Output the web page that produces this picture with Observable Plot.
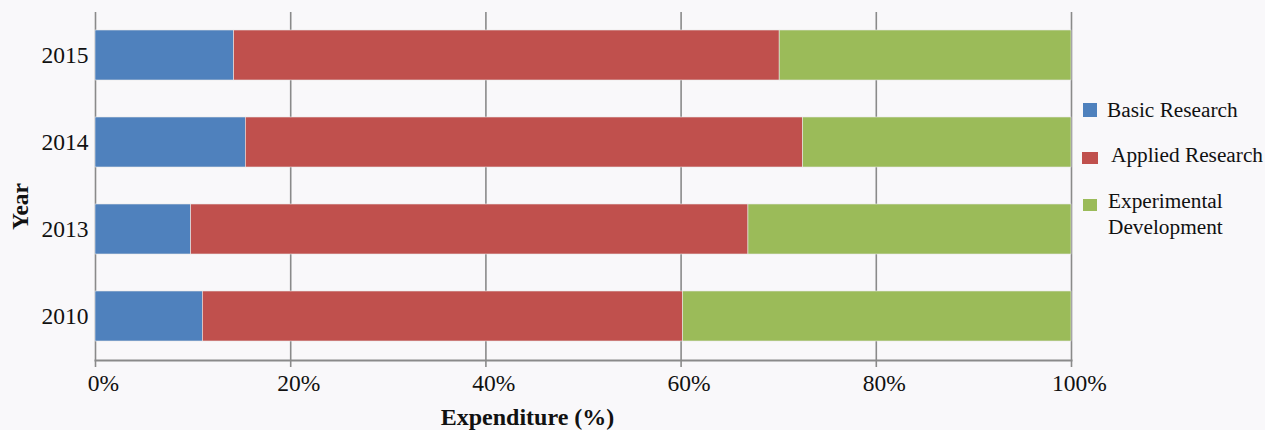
<!DOCTYPE html>
<html>
<head>
<meta charset="utf-8">
<script src="https://cdn.jsdelivr.net/npm/d3@7"></script>
<script src="https://cdn.jsdelivr.net/npm/@observablehq/plot@0.6"></script>
<style>
  html, body { margin: 0; padding: 0; background: #f9f8fa; }
  #wrap { position: relative; width: 1265px; height: 430px; overflow: hidden; font-family: "Liberation Serif", "Times New Roman", serif; }
  .leg { position: absolute; font-size: 21.3px; line-height: 26px; color: #111; white-space: nowrap; }
  .sw { position: absolute; }
</style>
</head>
<body>
<div id="wrap"></div>
<script>
const years = ["2015", "2014", "2013", "2010"];
const series = ["Basic Research", "Applied Research", "Experimental Development"];
const basic = [14.2, 15.4, 9.8, 11.0];
const applied = [55.9, 57.1, 57.1, 49.2];
const experimental = [29.9, 27.5, 33.1, 39.8];
const colors = ["#4f81bd", "#c0504d", "#9bbb59"];
const xTicks = [0, 20, 40, 60, 80, 100];

const valuesBySeries = [basic, applied, experimental];
const data = [];
series.forEach((s, si) => {
  years.forEach((y, yi) => data.push({year: y, series: s, value: valuesBySeries[si][yi]}));
});

const chart = Plot.plot({
  width: 1265,
  height: 430,
  marginLeft: 95,
  marginRight: 194,
  marginTop: 12,
  marginBottom: 70,
  style: {background: "transparent", fontFamily: "Liberation Serif, Times New Roman, serif", fontSize: "23.5px", color: "#111"},
  x: {domain: [0, 100], ticks: xTicks, tickFormat: d => d + "%"},
  y: {domain: years, paddingInner: 0.425, paddingOuter: 0.2125},
  color: {domain: series, range: colors},
  marks: [
    Plot.ruleX(xTicks, {stroke: "#8a8a8a", strokeWidth: 1.6}),
    Plot.barX(data, Plot.stackX({x: "value", y: "year", fill: "series", order: series, stroke: "#e8e8e8", strokeWidth: 0.6})),
    Plot.frame({anchor: "bottom", stroke: "#8a8a8a", strokeWidth: 2}),
    Plot.axisX({ticks: xTicks, tickFormat: () => "", tickSize: 7, stroke: "#8a8a8a", strokeWidth: 1.6, label: null}),
    Plot.axisX({ticks: xTicks, tickFormat: d => d + "%", tickSize: 0, tickPadding: 14, dx: 8, fill: "#111", label: null, fontSize: 23.5}),
    Plot.axisY({tickSize: 0, tickPadding: 7, label: null, fill: "#111", fontSize: 23.5}),
    Plot.text(["Year"], {frameAnchor: "left", rotate: -90, dx: -75, dy: 20, lineAnchor: "middle", textAnchor: "middle", fontWeight: "bold", fontSize: 23.5, fill: "#111"}),
    Plot.text(["Expenditure (%)"], {frameAnchor: "bottom", dx: -56, dy: 57, lineAnchor: "middle", textAnchor: "middle", fontWeight: "bold", fontSize: 24, fill: "#111"})
  ]
});

const wrap = document.getElementById("wrap");
wrap.appendChild(chart);

const legendItems = [
  {label: "Basic Research", color: colors[0], sw: [1083, 103, 14, 14], text: [1107, 97]},
  {label: "Applied Research", color: colors[1], sw: [1082, 152, 16, 12], text: [1111, 142]},
  {label: "Experimental<br>Development", color: colors[2], sw: [1083, 199, 14, 12], text: [1108, 188]}
];
legendItems.forEach(it => {
  const s = document.createElement("div");
  s.className = "sw";
  s.style.left = it.sw[0] + "px"; s.style.top = it.sw[1] + "px";
  s.style.width = it.sw[2] + "px"; s.style.height = it.sw[3] + "px";
  s.style.background = it.color;
  wrap.appendChild(s);
  const t = document.createElement("div");
  t.className = "leg";
  t.style.left = it.text[0] + "px"; t.style.top = it.text[1] + "px";
  t.innerHTML = it.label;
  wrap.appendChild(t);
});
</script>
</body>
</html>
